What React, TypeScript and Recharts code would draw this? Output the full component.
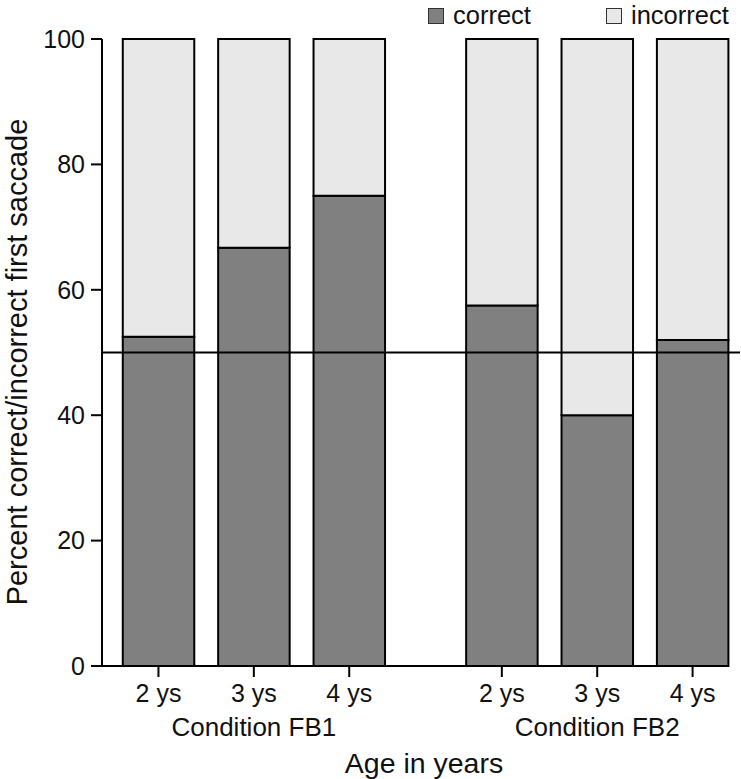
import React from 'react';
import { ComposedChart, Bar, XAxis, YAxis, ReferenceLine, Legend, Label } from 'recharts';

const conditions = ['Condition FB1', 'Condition FB2'];
const ages = ['2 ys', '3 ys', '4 ys'];
const correct = [52.5, 66.7, 75, 57.5, 40, 52];
const incorrect = [47.5, 33.3, 25, 42.5, 60, 48];
const yTicks = [0, 20, 40, 60, 80, 100];

const FONT = '"Liberation Sans", Arial, Helvetica, sans-serif';
const INK = '#111';
const GROUP_GAP = 0.6; // extra room between the two conditions, in bar slots

const data = correct.map((c, i) => {
  const g = Math.floor(i / ages.length);
  return {
    pos: i + g * GROUP_GAP,
    age: ages[i % ages.length],
    condition: conditions[g],
    first: i % ages.length === 1,
    correct: c,
    incorrect: incorrect[i],
  };
});

const lastPos = data[data.length - 1].pos;
const xDomain: [number, number] = [-0.592, lastPos + 0.497];

const AgeTick = (props: any) => {
  const { x, y, payload } = props;
  const d = data.find((r) => r.pos === payload.value);
  if (!d) return null;
  return (
    <g>
      <text x={x} y={y} dy="0.71em" textAnchor="middle" fontSize={25} fill={INK} fontFamily={FONT}>
        {d.age}
      </text>
      {d.first && (
        <text x={x} y={y + 34} dy="0.71em" textAnchor="middle" fontSize={26} fill={INK} fontFamily={FONT}>
          {d.condition}
        </text>
      )}
    </g>
  );
};

const legendX = [428, 606];

const LegendBox = (props: any) => {
  const items = props.payload || [];
  return (
    <svg width={741} height={32} style={{ display: 'block' }}>
      {items.map((it: any, i: number) => (
        <g key={it.value}>
          <rect x={legendX[i] + 0.5} y={8.5} width={15} height={15} fill={it.color} stroke="#333" strokeWidth={1} />
          <text x={legendX[i] + 25} y={23.5} fontSize={25.5} fill={INK} fontFamily={FONT}>
            {it.value}
          </text>
        </g>
      ))}
    </svg>
  );
};

export default function App() {
  return (
    <div style={{ position: 'absolute', left: 0, top: 0 }}>
      <ComposedChart width={741} height={779} data={data} margin={{ top: 39, right: 1, left: 0, bottom: 0 }}>
        <XAxis
          type="number"
          dataKey="pos"
          domain={xDomain}
          ticks={data.map((d) => d.pos)}
          interval={0}
          allowDataOverflow
          axisLine={false}
          tickSize={11}
          tickMargin={7}
          tickLine={{ stroke: '#000', strokeWidth: 2 }}
          tick={<AgeTick />}
          height={113}
        >
          <Label
            content={() => (
              <text x={424} y={772.5} textAnchor="middle" fontSize={28.5} fill={INK} fontFamily={FONT}>
                Age in years
              </text>
            )}
          />
        </XAxis>
        <YAxis
          type="number"
          domain={[0, 100]}
          ticks={yTicks}
          interval={0}
          width={102}
          tickSize={11}
          tickMargin={6}
          axisLine={{ stroke: '#000', strokeWidth: 2 }}
          tickLine={{ stroke: '#000', strokeWidth: 2 }}
          tick={{ fontSize: 25, fill: INK, fontFamily: FONT }}
        >
          <Label
            content={() => (
              <text
                transform="translate(26.5,362) rotate(-90)"
                textAnchor="middle"
                fontSize={29}
                fill={INK}
                fontFamily={FONT}
              >
                Percent correct/incorrect first saccade
              </text>
            )}
          />
        </YAxis>
        <Legend
          layout="vertical"
          align="center"
          verticalAlign="middle"
          wrapperStyle={{ top: 0, left: 0, width: 741, height: 32 }}
          content={<LegendBox />}
        />
        <Bar dataKey="correct" name="correct" stackId="a" fill="#808080" stroke="#000" strokeWidth={2} barSize={71.5} isAnimationActive={false} />
        <Bar dataKey="incorrect" name="incorrect" stackId="a" fill="#e8e8e8" stroke="#000" strokeWidth={2} barSize={71.5} isAnimationActive={false} />
        <ReferenceLine y={50} stroke="#000" strokeWidth={2} />
        <ReferenceLine
          segment={[
            { x: xDomain[0], y: 0 },
            { x: lastPos + 0.375, y: 0 },
          ]}
          stroke="#000"
          strokeWidth={2}
        />
      </ComposedChart>
    </div>
  );
}
